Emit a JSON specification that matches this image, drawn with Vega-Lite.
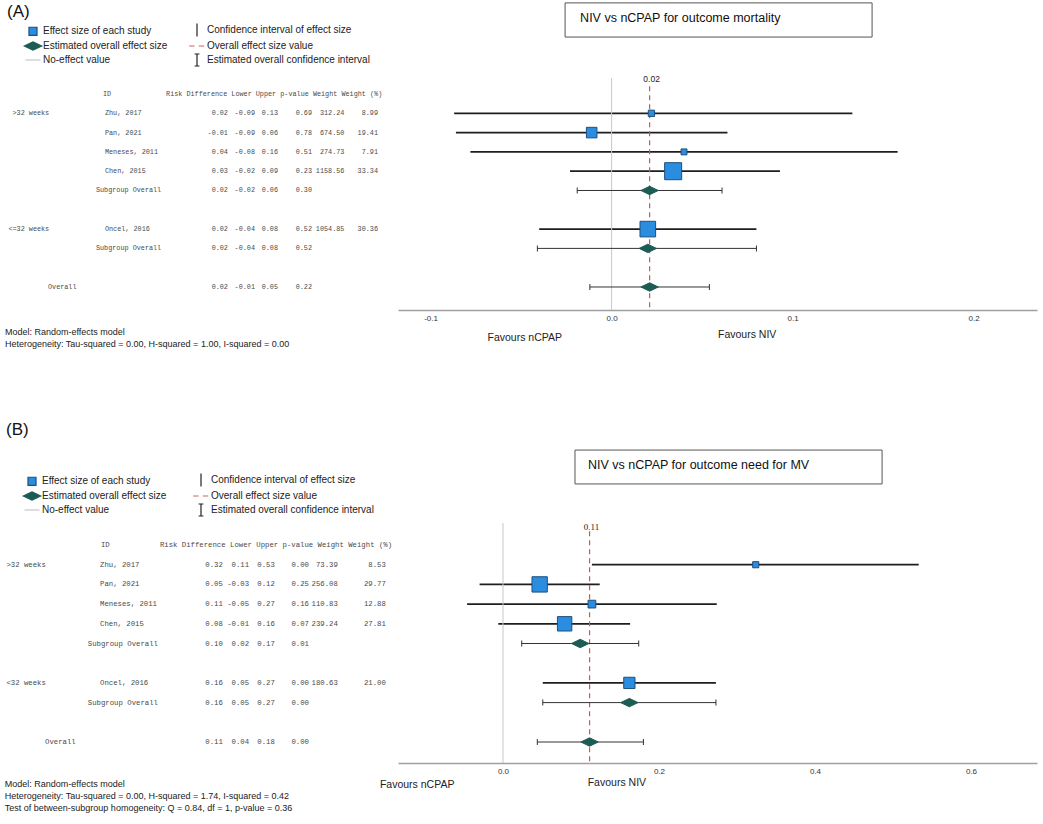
{
"$schema": "https://vega.github.io/schema/vega-lite/v6.json",
"padding": 0,
"spacing": 0,
"bounds": "flush",
"autosize": {"type": "pad"},
"background": "white",
"config": {"view": {"stroke": null}, "locale": {"number": {"decimal": ".", "thousands": ",", "grouping": [3], "currency": ["$", ""], "minus": "-"}}},
"datasets": {
"mort": [
{"row":1,"group":">32 weeks","type":"study","id":"Zhu, 2017","marker":"Effect size of each study","rd":0.022,"lower":-0.087,"upper":0.133,"p":0.69,"weight":312.24,"wpct":8.99},
{"row":2,"group":">32 weeks","type":"study","id":"Pan, 2021","marker":"Effect size of each study","rd":-0.011,"lower":-0.086,"upper":0.064,"p":0.78,"weight":674.50,"wpct":19.41},
{"row":3,"group":">32 weeks","type":"study","id":"Meneses, 2011","marker":"Effect size of each study","rd":0.040,"lower":-0.078,"upper":0.158,"p":0.51,"weight":274.73,"wpct":7.91},
{"row":4,"group":">32 weeks","type":"study","id":"Chen, 2015","marker":"Effect size of each study","rd":0.034,"lower":-0.023,"upper":0.093,"p":0.23,"weight":1158.56,"wpct":33.34},
{"row":5,"group":">32 weeks","type":"subgroup","id":"Subgroup Overall","marker":"Estimated overall effect size","rd":0.021,"lower":-0.019,"upper":0.061,"p":0.30,"weight":null,"wpct":null},
{"row":7,"group":"<=32 weeks","type":"study","id":"Oncel, 2016","marker":"Effect size of each study","rd":0.020,"lower":-0.040,"upper":0.080,"p":0.52,"weight":1054.85,"wpct":30.36},
{"row":8,"group":"<=32 weeks","type":"subgroup","id":"Subgroup Overall","marker":"Estimated overall effect size","rd":0.020,"lower":-0.041,"upper":0.080,"p":0.52,"weight":null,"wpct":null},
{"row":10,"group":null,"type":"overall","id":"Overall","marker":"Estimated overall effect size","rd":0.021,"lower":-0.012,"upper":0.054,"p":0.22,"weight":null,"wpct":null}
],
"mv": [
{"row":1,"group":">32 weeks","type":"study","id":"Zhu, 2017","marker":"Effect size of each study","rd":0.324,"lower":0.114,"upper":0.533,"p":0.00,"weight":73.39,"wpct":8.53},
{"row":2,"group":">32 weeks","type":"study","id":"Pan, 2021","marker":"Effect size of each study","rd":0.047,"lower":-0.030,"upper":0.124,"p":0.25,"weight":256.08,"wpct":29.77},
{"row":3,"group":">32 weeks","type":"study","id":"Meneses, 2011","marker":"Effect size of each study","rd":0.114,"lower":-0.046,"upper":0.274,"p":0.16,"weight":110.83,"wpct":12.88},
{"row":4,"group":">32 weeks","type":"study","id":"Chen, 2015","marker":"Effect size of each study","rd":0.079,"lower":-0.006,"upper":0.163,"p":0.07,"weight":239.24,"wpct":27.81},
{"row":5,"group":">32 weeks","type":"subgroup","id":"Subgroup Overall","marker":"Estimated overall effect size","rd":0.099,"lower":0.024,"upper":0.174,"p":0.01,"weight":null,"wpct":null},
{"row":7,"group":"<32 weeks","type":"study","id":"Oncel, 2016","marker":"Effect size of each study","rd":0.162,"lower":0.051,"upper":0.273,"p":0.00,"weight":180.63,"wpct":21.00},
{"row":8,"group":"<32 weeks","type":"subgroup","id":"Subgroup Overall","marker":"Estimated overall effect size","rd":0.162,"lower":0.051,"upper":0.273,"p":0.00,"weight":null,"wpct":null},
{"row":10,"group":null,"type":"overall","id":"Overall","marker":"Estimated overall effect size","rd":0.111,"lower":0.044,"upper":0.180,"p":0.00,"weight":null,"wpct":null}
]
},
"resolve": {
"scale": {"x": "independent", "y": "independent", "shape": "independent", "fill": "independent", "stroke": "independent", "size": "independent"},
"axis": {"x": "independent", "y": "independent"},
"legend": {"shape": "independent", "fill": "independent", "stroke": "independent", "size": "independent"}
},
"vconcat": [
{
"width": 1043, "height": 310,
"data": {"name": "mort"},
"resolve": {"scale": {"x": "independent"}, "axis": {"x": "independent"}},
"layer": [
{"transform": [{"filter": "datum.type == 'study'"}], "mark": {"type": "rule", "color": "#1e1e1e", "strokeWidth": 1.8},
 "encoding": {"x": {"field": "lower", "type": "quantitative", "scale": {"domain": [-0.118, 0.235], "range": [398, 1037], "nice": false, "zero": false},
   "axis": {"values": [-0.1, 0, 0.1, 0.2], "format": ".1f", "ticks": false, "grid": false, "domain": true, "domainColor": "#a0a0a0", "domainWidth": 1.5, "labelFont": "Liberation Sans", "labelFontSize": 8, "labelColor": "#333", "labelPadding": 4, "labelFlush": false, "labelOverlap": false, "orient": "bottom", "title": null}},
  "x2": {"field": "upper"},
  "y": {"field": "row", "type": "quantitative", "scale": {"domain": [-4.87, 11.192], "reverse": true, "nice": false, "zero": false}, "axis": null}}},
{"data": {"values": [{}]}, "mark": {"type": "text", "font": "Liberation Sans", "fontSize": 17, "align": "left", "baseline": "middle", "color": "#111"},
 "encoding": {"x": {"datum": 1.7, "type": "quantitative", "scale": {"domain": [0,100], "range": [0,410], "nice": false, "zero": false}, "axis": null},
  "y": {"datum": -4.25, "type": "quantitative", "axis": null},
  "text": {"value": "(A)"}}},
{"data": {"values": [{}]}, "mark": {"type": "text", "font": "Liberation Mono", "fontSize": 6.8, "align": "left", "baseline": "middle", "color": "#4a4a4a"},
 "encoding": {"x": {"datum": 25.1, "type": "quantitative", "scale": {"domain": [0,100], "range": [0,410], "nice": false, "zero": false}, "axis": null},
  "y": {"datum": 0, "type": "quantitative", "axis": null},
  "text": {"value": "ID"}}},
{"data": {"values": [{}]}, "mark": {"type": "text", "font": "Liberation Mono", "fontSize": 6.8, "align": "left", "baseline": "middle", "color": "#4a4a4a"},
 "encoding": {"x": {"datum": 40.5, "type": "quantitative", "scale": {"domain": [0,100], "range": [0,410], "nice": false, "zero": false}, "axis": null},
  "y": {"datum": 0, "type": "quantitative", "axis": null},
  "text": {"value": "Risk Difference Lower Upper p-value Weight Weight (%)"}}},
{"transform": [{"filter": "datum.type == 'study'"}, {"aggregate": [{"op": "min", "field": "row", "as": "row"}], "groupby": ["group"]}],
 "mark": {"type": "text", "font": "Liberation Mono", "fontSize": 6.8, "align": "right", "baseline": "middle", "color": "#4a4a4a"},
 "encoding": {"x": {"datum": 12.0, "type": "quantitative", "scale": {"domain": [0,100], "range": [0,410], "nice": false, "zero": false}, "axis": null},
  "y": {"field": "row", "type": "quantitative", "axis": null},
  "text": {"field": "group", "type": "nominal"}}},
{"transform": [{"filter": "datum.type == 'study'"}],
 "mark": {"type": "text", "font": "Liberation Mono", "fontSize": 6.8, "align": "left", "baseline": "middle", "color": "#4a4a4a"},
 "encoding": {"x": {"datum": 25.6, "type": "quantitative", "scale": {"domain": [0,100], "range": [0,410], "nice": false, "zero": false}, "axis": null},
  "y": {"field": "row", "type": "quantitative", "axis": null},
  "text": {"field": "id", "type": "nominal"}}},
{"transform": [{"filter": "datum.type == 'subgroup'"}],
 "mark": {"type": "text", "font": "Liberation Mono", "fontSize": 6.8, "align": "left", "baseline": "middle", "color": "#4a4a4a"},
 "encoding": {"x": {"datum": 23.4, "type": "quantitative", "scale": {"domain": [0,100], "range": [0,410], "nice": false, "zero": false}, "axis": null},
  "y": {"field": "row", "type": "quantitative", "axis": null},
  "text": {"field": "id", "type": "nominal"}}},
{"transform": [{"filter": "datum.type == 'overall'"}],
 "mark": {"type": "text", "font": "Liberation Mono", "fontSize": 6.8, "align": "left", "baseline": "middle", "color": "#4a4a4a"},
 "encoding": {"x": {"datum": 11.7, "type": "quantitative", "scale": {"domain": [0,100], "range": [0,410], "nice": false, "zero": false}, "axis": null},
  "y": {"field": "row", "type": "quantitative", "axis": null},
  "text": {"field": "id", "type": "nominal"}}},
{"mark": {"type": "text", "font": "Liberation Mono", "fontSize": 6.8, "align": "right", "baseline": "middle", "color": "#4a4a4a"},
 "encoding": {"x": {"datum": 55.6, "type": "quantitative", "scale": {"domain": [0,100], "range": [0,410], "nice": false, "zero": false}, "axis": null},
  "y": {"field": "row", "type": "quantitative", "axis": null},
  "text": {"field": "rd", "type": "quantitative", "format": ".2f"}}},
{"mark": {"type": "text", "font": "Liberation Mono", "fontSize": 6.8, "align": "right", "baseline": "middle", "color": "#4a4a4a"},
 "encoding": {"x": {"datum": 62.2, "type": "quantitative", "scale": {"domain": [0,100], "range": [0,410], "nice": false, "zero": false}, "axis": null},
  "y": {"field": "row", "type": "quantitative", "axis": null},
  "text": {"field": "lower", "type": "quantitative", "format": ".2f"}}},
{"mark": {"type": "text", "font": "Liberation Mono", "fontSize": 6.8, "align": "right", "baseline": "middle", "color": "#4a4a4a"},
 "encoding": {"x": {"datum": 67.8, "type": "quantitative", "scale": {"domain": [0,100], "range": [0,410], "nice": false, "zero": false}, "axis": null},
  "y": {"field": "row", "type": "quantitative", "axis": null},
  "text": {"field": "upper", "type": "quantitative", "format": ".2f"}}},
{"mark": {"type": "text", "font": "Liberation Mono", "fontSize": 6.8, "align": "right", "baseline": "middle", "color": "#4a4a4a"},
 "encoding": {"x": {"datum": 76.1, "type": "quantitative", "scale": {"domain": [0,100], "range": [0,410], "nice": false, "zero": false}, "axis": null},
  "y": {"field": "row", "type": "quantitative", "axis": null},
  "text": {"field": "p", "type": "quantitative", "format": ".2f"}}},
{"transform": [{"filter": "isValid(datum.weight)"}],
 "mark": {"type": "text", "font": "Liberation Mono", "fontSize": 6.8, "align": "right", "baseline": "middle", "color": "#4a4a4a"},
 "encoding": {"x": {"datum": 84.0, "type": "quantitative", "scale": {"domain": [0,100], "range": [0,410], "nice": false, "zero": false}, "axis": null},
  "y": {"field": "row", "type": "quantitative", "axis": null},
  "text": {"field": "weight", "type": "quantitative", "format": ".2f"}}},
{"transform": [{"filter": "isValid(datum.wpct)"}],
 "mark": {"type": "text", "font": "Liberation Mono", "fontSize": 6.8, "align": "right", "baseline": "middle", "color": "#4a4a4a"},
 "encoding": {"x": {"datum": 92.2, "type": "quantitative", "scale": {"domain": [0,100], "range": [0,410], "nice": false, "zero": false}, "axis": null},
  "y": {"field": "row", "type": "quantitative", "axis": null},
  "text": {"field": "wpct", "type": "quantitative", "format": ".2f"}}},
{"data": {"values": [{}]}, "mark": {"type": "text", "font": "Liberation Sans", "fontSize": 9, "align": "left", "baseline": "top", "lineHeight": 12, "color": "#222"},
 "encoding": {"x": {"datum": 1.2, "type": "quantitative", "scale": {"domain": [0,100], "range": [0,410], "nice": false, "zero": false}, "axis": null},
  "y": {"datum": 12.12, "type": "quantitative", "axis": null},
  "text": {"value": ["Model: Random-effects model", "Heterogeneity: Tau-squared = 0.00, H-squared = 1.00, I-squared = 0.00"]}}},
{"data": {"values": [{}]}, "mark": {"type": "rule", "color": "#c8c8c8", "strokeWidth": 1},
 "encoding": {"x": {"datum": 0, "type": "quantitative", "scale": {"domain": [-0.118, 0.235], "range": [398, 1037], "nice": false, "zero": false}, "axis": null},
  "y": {"datum": -0.83, "type": "quantitative", "axis": null},
  "y2": {"datum": 11.192}}},
{"transform": [{"filter": "datum.type == 'overall'"}], "mark": {"type": "rule", "color": "#c45a57", "strokeWidth": 1.2, "strokeDash": [5, 4]},
 "encoding": {"x": {"field": "rd", "type": "quantitative", "scale": {"domain": [-0.118, 0.235], "range": [398, 1037], "nice": false, "zero": false}, "axis": null},
  "y": {"datum": -0.4, "type": "quantitative", "axis": null},
  "y2": {"datum": 11.192}}},
{"transform": [{"filter": "datum.type == 'overall'"}], "mark": {"type": "text", "font": "Liberation Sans", "fontSize": 8.5, "color": "#222", "baseline": "middle", "dx": 2},
 "encoding": {"x": {"field": "rd", "type": "quantitative", "scale": {"domain": [-0.118, 0.235], "range": [398, 1037], "nice": false, "zero": false}, "axis": null},
  "y": {"datum": -0.8, "type": "quantitative", "axis": null},
  "text": {"field": "rd", "type": "quantitative", "format": ".2f"}}},
{"transform": [{"filter": "datum.type != 'study'"}], "mark": {"type": "rule", "color": "#333", "strokeWidth": 1},
 "encoding": {"x": {"field": "lower", "type": "quantitative", "scale": {"domain": [-0.118, 0.235], "range": [398, 1037], "nice": false, "zero": false}, "axis": null},
  "x2": {"field": "upper"},
  "y": {"field": "row", "type": "quantitative", "axis": null}}},
{"transform": [{"filter": "datum.type != 'study'"}], "mark": {"type": "tick", "orient": "vertical", "color": "#333", "size": 6, "thickness": 1, "opacity": 1},
 "encoding": {"x": {"field": "lower", "type": "quantitative", "scale": {"domain": [-0.118, 0.235], "range": [398, 1037], "nice": false, "zero": false}, "axis": null},
  "y": {"field": "row", "type": "quantitative", "axis": null}}},
{"transform": [{"filter": "datum.type != 'study'"}], "mark": {"type": "tick", "orient": "vertical", "color": "#333", "size": 6, "thickness": 1, "opacity": 1},
 "encoding": {"x": {"field": "upper", "type": "quantitative", "scale": {"domain": [-0.118, 0.235], "range": [398, 1037], "nice": false, "zero": false}, "axis": null},
  "y": {"field": "row", "type": "quantitative", "axis": null}}},
{"transform": [{"filter": "datum.type == 'study'"}], "mark": {"type": "point", "filled": true, "opacity": 1, "strokeWidth": 1},
 "encoding": {"x": {"field": "rd", "type": "quantitative", "scale": {"domain": [-0.118, 0.235], "range": [398, 1037], "nice": false, "zero": false}, "axis": null},
  "y": {"field": "row", "type": "quantitative", "axis": null},
  "shape": {"field": "marker", "type": "nominal",
   "scale": {"domain": ["Effect size of each study", "Estimated overall effect size", "No-effect value", "Confidence interval of effect size", "Overall effect size value", "Estimated overall confidence interval"],
    "range": ["M-0.67,-0.67H0.67V0.67H-0.67Z", "M-1.45,0L0,-0.7L1.45,0L0,0.7Z", "M-1.25,0H1.25", "M0,-1.1V1.1", "M-1.3,0H-0.4M0.3,0H1.2", "M-0.4,-1H0.4M0,-1V1M-0.4,1H0.4"]},
   "legend": {"title": null, "orient": "none", "legendX": 26, "legendY": 23, "columns": 2, "columnPadding": 18, "rowPadding": -3, "symbolSize": 144, "symbolStrokeWidth": 1.2, "labelFont": "Liberation Sans", "labelFontSize": 10, "labelColor": "#222", "labelOffset": 3, "labelLimit": 400, "padding": 0}},
  "fill": {"field": "marker", "type": "nominal",
   "scale": {"domain": ["Effect size of each study", "Estimated overall effect size", "No-effect value", "Confidence interval of effect size", "Overall effect size value", "Estimated overall confidence interval"],
    "range": ["#2b8de0", "#1d5c55", "transparent", "transparent", "transparent", "transparent"]},
   "legend": {"title": null, "orient": "none", "legendX": 26, "legendY": 23, "columns": 2, "columnPadding": 18, "rowPadding": -3, "symbolSize": 144, "symbolStrokeWidth": 1.2, "labelFont": "Liberation Sans", "labelFontSize": 10, "labelColor": "#222", "labelOffset": 3, "labelLimit": 400, "padding": 0}},
  "stroke": {"field": "marker", "type": "nominal",
   "scale": {"domain": ["Effect size of each study", "Estimated overall effect size", "No-effect value", "Confidence interval of effect size", "Overall effect size value", "Estimated overall confidence interval"],
    "range": ["#1f4f7c", "#1d5c55", "#c8c8c8", "#222222", "#d0605c", "#222222"]},
   "legend": {"title": null, "orient": "none", "legendX": 26, "legendY": 23, "columns": 2, "columnPadding": 18, "rowPadding": -3, "symbolSize": 144, "symbolStrokeWidth": 1.2, "labelFont": "Liberation Sans", "labelFontSize": 10, "labelColor": "#222", "labelOffset": 3, "labelLimit": 400, "padding": 0}},
  "size": {"field": "wpct", "type": "quantitative", "scale": {"type": "pow", "exponent": 2, "domain": [7.9, 33.3], "range": [78, 644]}, "legend": null}}},
{"transform": [{"filter": "datum.type != 'study'"}], "mark": {"type": "point", "filled": true, "opacity": 1, "strokeWidth": 1, "size": 144},
 "encoding": {"x": {"field": "rd", "type": "quantitative", "scale": {"domain": [-0.118, 0.235], "range": [398, 1037], "nice": false, "zero": false}, "axis": null},
  "y": {"field": "row", "type": "quantitative", "axis": null},
  "shape": {"field": "marker", "type": "nominal"},
  "fill": {"field": "marker", "type": "nominal"},
  "stroke": {"field": "marker", "type": "nominal"}}},
{"data": {"values": [{}]}, "mark": {"type": "text", "font": "Liberation Sans", "fontSize": 10.5, "color": "#222", "align": "center", "baseline": "middle"},
 "encoding": {"x": {"datum": -0.048, "type": "quantitative", "scale": {"domain": [-0.118, 0.235], "range": [398, 1037], "nice": false, "zero": false}, "axis": null},
  "y": {"datum": 12.64, "type": "quantitative", "axis": null},
  "text": {"value": "Favours nCPAP"}}},
{"data": {"values": [{}]}, "mark": {"type": "text", "font": "Liberation Sans", "fontSize": 10.5, "color": "#222", "align": "center", "baseline": "middle"},
 "encoding": {"x": {"datum": 0.0749, "type": "quantitative", "scale": {"domain": [-0.118, 0.235], "range": [398, 1037], "nice": false, "zero": false}, "axis": null},
  "y": {"datum": 12.49, "type": "quantitative", "axis": null},
  "text": {"value": "Favours NIV"}}},
{"data": {"values": [{}]}, "mark": {"type": "rect", "fill": "white", "stroke": "#555", "strokeWidth": 1},
 "encoding": {"x": {"datum": -0.0257, "type": "quantitative", "scale": {"domain": [-0.118, 0.235], "range": [398, 1037], "nice": false, "zero": false}, "axis": null},
  "x2": {"datum": 0.1439},
  "y": {"datum": -4.72, "type": "quantitative", "axis": null},
  "y2": {"datum": -2.95}}},
{"data": {"values": [{}]}, "mark": {"type": "text", "font": "Liberation Sans", "fontSize": 12.5, "color": "#111", "align": "left", "baseline": "middle"},
 "encoding": {"x": {"datum": -0.0174, "type": "quantitative", "scale": {"domain": [-0.118, 0.235], "range": [398, 1037], "nice": false, "zero": false}, "axis": null},
  "y": {"datum": -3.94, "type": "quantitative", "axis": null},
  "text": {"value": "NIV vs nCPAP for outcome mortality"}}}
]
},
{
"width": 1043, "height": 453,
"data": {"name": "mv"},
"resolve": {"scale": {"x": "independent"}, "axis": {"x": "independent"}},
"layer": [
{"transform": [{"filter": "datum.type == 'study'"}], "mark": {"type": "rule", "color": "#1e1e1e", "strokeWidth": 1.8},
 "encoding": {"x": {"field": "lower", "type": "quantitative", "scale": {"domain": [-0.1346, 0.6846], "range": [398, 1037], "nice": false, "zero": false},
   "axis": {"values": [0, 0.2, 0.4, 0.6], "format": ".1f", "ticks": false, "grid": false, "domain": true, "domainColor": "#a0a0a0", "domainWidth": 1.5, "labelFont": "Liberation Sans", "labelFontSize": 8, "labelColor": "#333", "labelPadding": 4, "labelFlush": false, "labelOverlap": false, "orient": "bottom", "title": null}},
  "x2": {"field": "upper"},
  "y": {"field": "row", "type": "quantitative", "scale": {"domain": [-11.93, 11.066], "reverse": true, "nice": false, "zero": false}, "axis": null}}},
{"data": {"values": [{}]}, "mark": {"type": "text", "font": "Liberation Sans", "fontSize": 17, "align": "left", "baseline": "middle", "color": "#111"},
 "encoding": {"x": {"datum": 1.4, "type": "quantitative", "scale": {"domain": [0,100], "range": [0,437], "nice": false, "zero": false}, "axis": null},
  "y": {"datum": -5.84, "type": "quantitative", "axis": null},
  "text": {"value": "(B)"}}},
{"data": {"values": [{}]}, "mark": {"type": "text", "font": "Liberation Mono", "fontSize": 7.3, "align": "left", "baseline": "middle", "color": "#4a4a4a"},
 "encoding": {"x": {"datum": 23.1, "type": "quantitative", "scale": {"domain": [0,100], "range": [0,437], "nice": false, "zero": false}, "axis": null},
  "y": {"datum": 0, "type": "quantitative", "axis": null},
  "text": {"value": "ID"}}},
{"data": {"values": [{}]}, "mark": {"type": "text", "font": "Liberation Mono", "fontSize": 7.3, "align": "left", "baseline": "middle", "color": "#4a4a4a"},
 "encoding": {"x": {"datum": 36.6, "type": "quantitative", "scale": {"domain": [0,100], "range": [0,437], "nice": false, "zero": false}, "axis": null},
  "y": {"datum": 0, "type": "quantitative", "axis": null},
  "text": {"value": "Risk Difference Lower Upper p-value Weight Weight (%)"}}},
{"transform": [{"filter": "datum.type == 'study'"}, {"aggregate": [{"op": "min", "field": "row", "as": "row"}], "groupby": ["group"]}],
 "mark": {"type": "text", "font": "Liberation Mono", "fontSize": 7.3, "align": "right", "baseline": "middle", "color": "#4a4a4a"},
 "encoding": {"x": {"datum": 10.5, "type": "quantitative", "scale": {"domain": [0,100], "range": [0,437], "nice": false, "zero": false}, "axis": null},
  "y": {"field": "row", "type": "quantitative", "axis": null},
  "text": {"field": "group", "type": "nominal"}}},
{"transform": [{"filter": "datum.type == 'study'"}],
 "mark": {"type": "text", "font": "Liberation Mono", "fontSize": 7.3, "align": "left", "baseline": "middle", "color": "#4a4a4a"},
 "encoding": {"x": {"datum": 22.9, "type": "quantitative", "scale": {"domain": [0,100], "range": [0,437], "nice": false, "zero": false}, "axis": null},
  "y": {"field": "row", "type": "quantitative", "axis": null},
  "text": {"field": "id", "type": "nominal"}}},
{"transform": [{"filter": "datum.type == 'subgroup'"}],
 "mark": {"type": "text", "font": "Liberation Mono", "fontSize": 7.3, "align": "left", "baseline": "middle", "color": "#4a4a4a"},
 "encoding": {"x": {"datum": 20.1, "type": "quantitative", "scale": {"domain": [0,100], "range": [0,437], "nice": false, "zero": false}, "axis": null},
  "y": {"field": "row", "type": "quantitative", "axis": null},
  "text": {"field": "id", "type": "nominal"}}},
{"transform": [{"filter": "datum.type == 'overall'"}],
 "mark": {"type": "text", "font": "Liberation Mono", "fontSize": 7.3, "align": "left", "baseline": "middle", "color": "#4a4a4a"},
 "encoding": {"x": {"datum": 10.3, "type": "quantitative", "scale": {"domain": [0,100], "range": [0,437], "nice": false, "zero": false}, "axis": null},
  "y": {"field": "row", "type": "quantitative", "axis": null},
  "text": {"field": "id", "type": "nominal"}}},
{"mark": {"type": "text", "font": "Liberation Mono", "fontSize": 7.3, "align": "right", "baseline": "middle", "color": "#4a4a4a"},
 "encoding": {"x": {"datum": 51.0, "type": "quantitative", "scale": {"domain": [0,100], "range": [0,437], "nice": false, "zero": false}, "axis": null},
  "y": {"field": "row", "type": "quantitative", "axis": null},
  "text": {"field": "rd", "type": "quantitative", "format": ".2f"}}},
{"mark": {"type": "text", "font": "Liberation Mono", "fontSize": 7.3, "align": "right", "baseline": "middle", "color": "#4a4a4a"},
 "encoding": {"x": {"datum": 57.0, "type": "quantitative", "scale": {"domain": [0,100], "range": [0,437], "nice": false, "zero": false}, "axis": null},
  "y": {"field": "row", "type": "quantitative", "axis": null},
  "text": {"field": "lower", "type": "quantitative", "format": ".2f"}}},
{"mark": {"type": "text", "font": "Liberation Mono", "fontSize": 7.3, "align": "right", "baseline": "middle", "color": "#4a4a4a"},
 "encoding": {"x": {"datum": 62.9, "type": "quantitative", "scale": {"domain": [0,100], "range": [0,437], "nice": false, "zero": false}, "axis": null},
  "y": {"field": "row", "type": "quantitative", "axis": null},
  "text": {"field": "upper", "type": "quantitative", "format": ".2f"}}},
{"mark": {"type": "text", "font": "Liberation Mono", "fontSize": 7.3, "align": "right", "baseline": "middle", "color": "#4a4a4a"},
 "encoding": {"x": {"datum": 70.7, "type": "quantitative", "scale": {"domain": [0,100], "range": [0,437], "nice": false, "zero": false}, "axis": null},
  "y": {"field": "row", "type": "quantitative", "axis": null},
  "text": {"field": "p", "type": "quantitative", "format": ".2f"}}},
{"transform": [{"filter": "isValid(datum.weight)"}],
 "mark": {"type": "text", "font": "Liberation Mono", "fontSize": 7.3, "align": "right", "baseline": "middle", "color": "#4a4a4a"},
 "encoding": {"x": {"datum": 77.3, "type": "quantitative", "scale": {"domain": [0,100], "range": [0,437], "nice": false, "zero": false}, "axis": null},
  "y": {"field": "row", "type": "quantitative", "axis": null},
  "text": {"field": "weight", "type": "quantitative", "format": ".2f"}}},
{"transform": [{"filter": "isValid(datum.wpct)"}],
 "mark": {"type": "text", "font": "Liberation Mono", "fontSize": 7.3, "align": "right", "baseline": "middle", "color": "#4a4a4a"},
 "encoding": {"x": {"datum": 88.3, "type": "quantitative", "scale": {"domain": [0,100], "range": [0,437], "nice": false, "zero": false}, "axis": null},
  "y": {"field": "row", "type": "quantitative", "axis": null},
  "text": {"field": "wpct", "type": "quantitative", "format": ".2f"}}},
{"data": {"values": [{}]}, "mark": {"type": "text", "font": "Liberation Sans", "fontSize": 9, "align": "left", "baseline": "top", "lineHeight": 12, "color": "#222"},
 "encoding": {"x": {"datum": 1.1, "type": "quantitative", "scale": {"domain": [0,100], "range": [0,437], "nice": false, "zero": false}, "axis": null},
  "y": {"datum": 11.93, "type": "quantitative", "axis": null},
  "text": {"value": ["Model: Random-effects model", "Heterogeneity: Tau-squared = 0.00, H-squared = 1.74, I-squared = 0.42", "Test of between-subgroup homogeneity: Q = 0.84, df = 1, p-value = 0.36"]}}},
{"data": {"values": [{}]}, "mark": {"type": "rule", "color": "#c8c8c8", "strokeWidth": 1},
 "encoding": {"x": {"datum": 0, "type": "quantitative", "scale": {"domain": [-0.1346, 0.6846], "range": [398, 1037], "nice": false, "zero": false}, "axis": null},
  "y": {"datum": -1.12, "type": "quantitative", "axis": null},
  "y2": {"datum": 11.066}}},
{"transform": [{"filter": "datum.type == 'overall'"}], "mark": {"type": "rule", "color": "#c45a57", "strokeWidth": 1.2, "strokeDash": [5, 4]},
 "encoding": {"x": {"field": "rd", "type": "quantitative", "scale": {"domain": [-0.1346, 0.6846], "range": [398, 1037], "nice": false, "zero": false}, "axis": null},
  "y": {"datum": -0.7, "type": "quantitative", "axis": null},
  "y2": {"datum": 11.066}}},
{"transform": [{"filter": "datum.type == 'overall'"}], "mark": {"type": "text", "font": "Liberation Serif", "fontSize": 9, "color": "#222", "baseline": "middle", "dx": 2},
 "encoding": {"x": {"field": "rd", "type": "quantitative", "scale": {"domain": [-0.1346, 0.6846], "range": [398, 1037], "nice": false, "zero": false}, "axis": null},
  "y": {"datum": -0.91, "type": "quantitative", "axis": null},
  "text": {"field": "rd", "type": "quantitative", "format": ".2f"}}},
{"transform": [{"filter": "datum.type != 'study'"}], "mark": {"type": "rule", "color": "#333", "strokeWidth": 1},
 "encoding": {"x": {"field": "lower", "type": "quantitative", "scale": {"domain": [-0.1346, 0.6846], "range": [398, 1037], "nice": false, "zero": false}, "axis": null},
  "x2": {"field": "upper"},
  "y": {"field": "row", "type": "quantitative", "axis": null}}},
{"transform": [{"filter": "datum.type != 'study'"}], "mark": {"type": "tick", "orient": "vertical", "color": "#333", "size": 6, "thickness": 1, "opacity": 1},
 "encoding": {"x": {"field": "lower", "type": "quantitative", "scale": {"domain": [-0.1346, 0.6846], "range": [398, 1037], "nice": false, "zero": false}, "axis": null},
  "y": {"field": "row", "type": "quantitative", "axis": null}}},
{"transform": [{"filter": "datum.type != 'study'"}], "mark": {"type": "tick", "orient": "vertical", "color": "#333", "size": 6, "thickness": 1, "opacity": 1},
 "encoding": {"x": {"field": "upper", "type": "quantitative", "scale": {"domain": [-0.1346, 0.6846], "range": [398, 1037], "nice": false, "zero": false}, "axis": null},
  "y": {"field": "row", "type": "quantitative", "axis": null}}},
{"transform": [{"filter": "datum.type == 'study'"}], "mark": {"type": "point", "filled": true, "opacity": 1, "strokeWidth": 1},
 "encoding": {"x": {"field": "rd", "type": "quantitative", "scale": {"domain": [-0.1346, 0.6846], "range": [398, 1037], "nice": false, "zero": false}, "axis": null},
  "y": {"field": "row", "type": "quantitative", "axis": null},
  "shape": {"field": "marker", "type": "nominal",
   "scale": {"domain": ["Effect size of each study", "Estimated overall effect size", "No-effect value", "Confidence interval of effect size", "Overall effect size value", "Estimated overall confidence interval"],
    "range": ["M-0.67,-0.67H0.67V0.67H-0.67Z", "M-1.45,0L0,-0.7L1.45,0L0,0.7Z", "M-1.25,0H1.25", "M0,-1.1V1.1", "M-1.3,0H-0.4M0.3,0H1.2", "M-0.4,-1H0.4M0,-1V1M-0.4,1H0.4"]},
   "legend": {"title": null, "orient": "none", "legendX": 25, "legendY": 163, "columns": 2, "columnPadding": 23, "rowPadding": -3, "symbolSize": 144, "symbolStrokeWidth": 1.2, "labelFont": "Liberation Sans", "labelFontSize": 10, "labelColor": "#222", "labelOffset": 3, "labelLimit": 400, "padding": 0}},
  "fill": {"field": "marker", "type": "nominal",
   "scale": {"domain": ["Effect size of each study", "Estimated overall effect size", "No-effect value", "Confidence interval of effect size", "Overall effect size value", "Estimated overall confidence interval"],
    "range": ["#2b8de0", "#1d5c55", "transparent", "transparent", "transparent", "transparent"]},
   "legend": {"title": null, "orient": "none", "legendX": 25, "legendY": 163, "columns": 2, "columnPadding": 23, "rowPadding": -3, "symbolSize": 144, "symbolStrokeWidth": 1.2, "labelFont": "Liberation Sans", "labelFontSize": 10, "labelColor": "#222", "labelOffset": 3, "labelLimit": 400, "padding": 0}},
  "stroke": {"field": "marker", "type": "nominal",
   "scale": {"domain": ["Effect size of each study", "Estimated overall effect size", "No-effect value", "Confidence interval of effect size", "Overall effect size value", "Estimated overall confidence interval"],
    "range": ["#1f4f7c", "#1d5c55", "#c8c8c8", "#222222", "#d0605c", "#222222"]},
   "legend": {"title": null, "orient": "none", "legendX": 25, "legendY": 163, "columns": 2, "columnPadding": 23, "rowPadding": -3, "symbolSize": 144, "symbolStrokeWidth": 1.2, "labelFont": "Liberation Sans", "labelFontSize": 10, "labelColor": "#222", "labelOffset": 3, "labelLimit": 400, "padding": 0}},
  "size": {"field": "wpct", "type": "quantitative", "scale": {"type": "pow", "exponent": 2, "domain": [7.9, 33.3], "range": [78, 644]}, "legend": null}}},
{"transform": [{"filter": "datum.type != 'study'"}], "mark": {"type": "point", "filled": true, "opacity": 1, "strokeWidth": 1, "size": 144},
 "encoding": {"x": {"field": "rd", "type": "quantitative", "scale": {"domain": [-0.1346, 0.6846], "range": [398, 1037], "nice": false, "zero": false}, "axis": null},
  "y": {"field": "row", "type": "quantitative", "axis": null},
  "shape": {"field": "marker", "type": "nominal"},
  "fill": {"field": "marker", "type": "nominal"},
  "stroke": {"field": "marker", "type": "nominal"}}},
{"data": {"values": [{}]}, "mark": {"type": "text", "font": "Liberation Sans", "fontSize": 10.5, "color": "#222", "align": "center", "baseline": "middle"},
 "encoding": {"x": {"datum": -0.110, "type": "quantitative", "scale": {"domain": [-0.1346, 0.6846], "range": [398, 1037], "nice": false, "zero": false}, "axis": null},
  "y": {"datum": 12.18, "type": "quantitative", "axis": null},
  "text": {"value": "Favours nCPAP"}}},
{"data": {"values": [{}]}, "mark": {"type": "text", "font": "Liberation Sans", "fontSize": 10.5, "color": "#222", "align": "center", "baseline": "middle"},
 "encoding": {"x": {"datum": 0.146, "type": "quantitative", "scale": {"domain": [-0.1346, 0.6846], "range": [398, 1037], "nice": false, "zero": false}, "axis": null},
  "y": {"datum": 12.08, "type": "quantitative", "axis": null},
  "text": {"value": "Favours NIV"}}},
{"data": {"values": [{}]}, "mark": {"type": "rect", "fill": "white", "stroke": "#555", "strokeWidth": 1},
 "encoding": {"x": {"datum": 0.0923, "type": "quantitative", "scale": {"domain": [-0.1346, 0.6846], "range": [398, 1037], "nice": false, "zero": false}, "axis": null},
  "x2": {"datum": 0.486},
  "y": {"datum": -4.82, "type": "quantitative", "axis": null},
  "y2": {"datum": -3.10}}},
{"data": {"values": [{}]}, "mark": {"type": "text", "font": "Liberation Sans", "fontSize": 12.5, "color": "#111", "align": "left", "baseline": "middle"},
 "encoding": {"x": {"datum": 0.109, "type": "quantitative", "scale": {"domain": [-0.1346, 0.6846], "range": [398, 1037], "nice": false, "zero": false}, "axis": null},
  "y": {"datum": -4.06, "type": "quantitative", "axis": null},
  "text": {"value": "NIV vs nCPAP for outcome need for MV"}}}
]
}
]
}
